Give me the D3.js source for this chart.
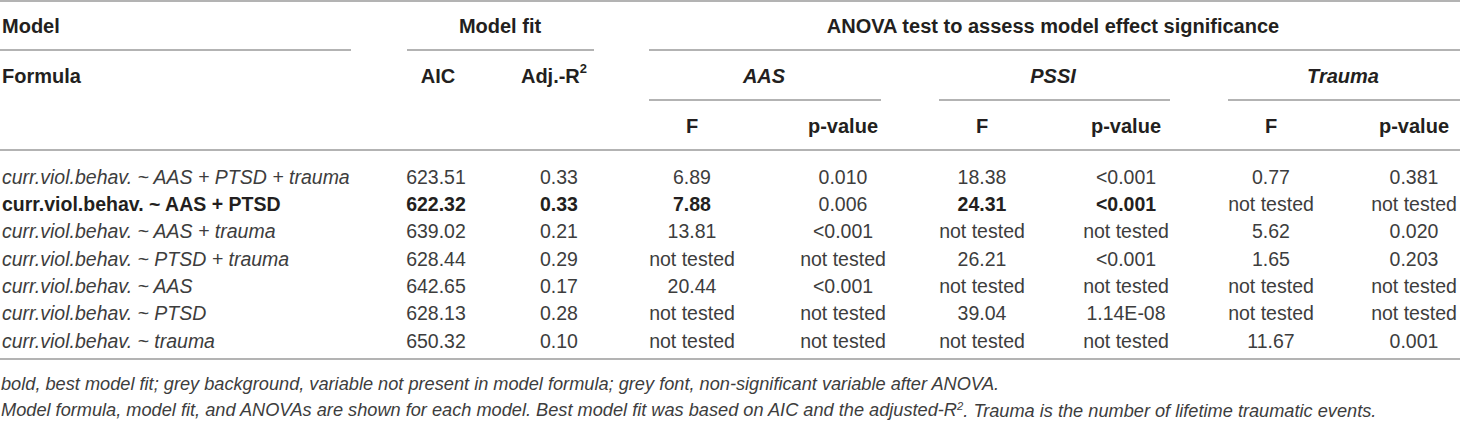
<!DOCTYPE html>
<html>
<head>
<meta charset="utf-8">
<script src="https://cdn.jsdelivr.net/npm/d3@7"></script>
<style>
  html, body { margin: 0; padding: 0; background: #fff; }
  svg text { font-family: "Liberation Sans", Arial, sans-serif; }
</style>
</head>
<body>
<svg id="table"></svg>
<script>
// table content
const formulas = [
  'curr.viol.behav. ~ AAS + PTSD + trauma',
  'curr.viol.behav. ~ AAS + PTSD',
  'curr.viol.behav. ~ AAS + trauma',
  'curr.viol.behav. ~ PTSD + trauma',
  'curr.viol.behav. ~ AAS',
  'curr.viol.behav. ~ PTSD',
  'curr.viol.behav. ~ trauma',
];
const aic = ['623.51', '622.32', '639.02', '628.44', '642.65', '628.13', '650.32'];
const adjR2 = ['0.33', '0.33', '0.21', '0.29', '0.17', '0.28', '0.10'];
const aasF = ['6.89', '7.88', '13.81', 'not tested', '20.44', 'not tested', 'not tested'];
const aasP = ['0.010', '0.006', '<0.001', 'not tested', '<0.001', 'not tested', 'not tested'];
const pssiF = ['18.38', '24.31', 'not tested', '26.21', 'not tested', '39.04', 'not tested'];
const pssiP = ['<0.001', '<0.001', 'not tested', '<0.001', 'not tested', '1.14E-08', 'not tested'];
const traumaF = ['0.77', 'not tested', '5.62', '1.65', 'not tested', 'not tested', '11.67'];
const traumaP = ['0.381', 'not tested', '0.020', '0.203', 'not tested', 'not tested', '0.001'];

// best model row and which of its cells are bold
const bestRow = 1;
const boldCols = ['formula', 'aic', 'adj', 'aasF', 'pssiF', 'pssiP'];

const groupLabels = ['AAS', 'PSSI', 'Trauma'];
const footnotes = [
  'bold, best model fit; grey background, variable not present in model formula; grey font, non-significant variable after ANOVA.',
  'Model formula, model fit, and ANOVAs are shown for each model. Best model fit was based on AIC and the adjusted-R',
  '. Trauma is the number of lifetime traumatic events.',
];

const width = 1460;
const height = 421;
const headSize = 20;
const bodySize = 19.5;
const footSize = 18.2;
const textColor = '#231f20';
const dataColor = '#3d3d3d';
const ruleColor = '#9a9a9a';

const colKeys = ['aic', 'adj', 'aasF', 'aasP', 'pssiF', 'pssiP', 'traumaF', 'traumaP'];
const colData = {
  aic, adj: adjR2, aasF, aasP, pssiF, pssiP, traumaF, traumaP,
};

const x = d3.scaleOrdinal()
  .domain(colKeys)
  .range([436, 559, 692, 843, 982, 1126, 1271, 1414]);

const xGroup = d3.scaleOrdinal()
  .domain(groupLabels)
  .range([764, 1053, 1343]);

const y = d3.scalePoint()
  .domain(d3.range(formulas.length))
  .range([177, 341]);

const svg = d3.select('#table')
  .attr('width', width)
  .attr('height', height);

// horizontal rules
const rules = [
  { y: 1, x1: 0, x2: width },
  { y: 50, x1: 0, x2: 351 },
  { y: 50, x1: 407, x2: 594 },
  { y: 50, x1: 649, x2: width },
  { y: 100, x1: 649, x2: 881 },
  { y: 100, x1: 939, x2: 1170 },
  { y: 100, x1: 1228, x2: width },
  { y: 150, x1: 0, x2: width },
  { y: 359, x1: 0, x2: width },
];
svg.selectAll('line.rule')
  .data(rules)
  .enter().append('line')
  .attr('class', 'rule')
  .attr('x1', (d) => d.x1)
  .attr('x2', (d) => d.x2)
  .attr('y1', (d) => d.y)
  .attr('y2', (d) => d.y)
  .attr('stroke', ruleColor)
  .attr('stroke-width', 1.6);

// header
const head = svg.append('g')
  .attr('font-weight', 'bold')
  .attr('font-size', headSize)
  .attr('fill', textColor);

const headTop = [
  { t: 'Model', x: 2, y: 26, anchor: 'start' },
  { t: 'Model fit', x: 500, y: 26, anchor: 'middle' },
  { t: 'ANOVA test to assess model effect significance', x: 1053, y: 26, anchor: 'middle' },
  { t: 'Formula', x: 2, y: 76, anchor: 'start' },
  { t: 'AIC', x: x('aic') + 2, y: 76, anchor: 'middle' },
];
head.selectAll('text.h')
  .data(headTop)
  .enter().append('text')
  .attr('class', 'h')
  .attr('x', (d) => d.x)
  .attr('y', (d) => d.y)
  .attr('dy', '0.35em')
  .attr('text-anchor', (d) => d.anchor)
  .text((d) => d.t);

const adjHead = head.append('text')
  .attr('x', x('adj') - 5)
  .attr('y', 76)
  .attr('dy', '0.35em')
  .attr('text-anchor', 'middle');
adjHead.append('tspan').text('Adj.-R');
adjHead.append('tspan')
  .attr('font-size', headSize * 0.65)
  .attr('dy', '-0.75em')
  .text('2');

head.selectAll('text.group')
  .data(groupLabels)
  .enter().append('text')
  .attr('class', 'group')
  .attr('x', (d) => xGroup(d))
  .attr('y', 76)
  .attr('dy', '0.35em')
  .attr('text-anchor', 'middle')
  .attr('font-style', 'italic')
  .text((d) => d);

head.selectAll('text.sub')
  .data(colKeys.slice(2))
  .enter().append('text')
  .attr('class', 'sub')
  .attr('x', (d) => x(d))
  .attr('y', 126)
  .attr('dy', '0.35em')
  .attr('text-anchor', 'middle')
  .text((d) => (d.endsWith('F') ? 'F' : 'p-value'));

// body rows
const rows = svg.selectAll('g.row')
  .data(formulas)
  .enter().append('g')
  .attr('class', 'row')
  .attr('font-size', bodySize)
  .attr('transform', (d, i) => `translate(0,${y(i)})`);

rows.append('text')
  .attr('x', 2)
  .attr('dy', '0.35em')
  .attr('fill', (d, i) => (i === bestRow ? textColor : dataColor))
  .attr('font-weight', (d, i) => (i === bestRow ? 'bold' : 'normal'))
  .attr('font-style', (d, i) => (i === bestRow ? 'normal' : 'italic'))
  .text((d) => d);

rows.each(function (d, i) {
  d3.select(this).selectAll('text.cell')
    .data(colKeys)
    .enter().append('text')
    .attr('class', 'cell')
    .attr('x', (k) => x(k))
    .attr('dy', '0.35em')
    .attr('text-anchor', 'middle')
    .attr('font-weight', (k) => (i === bestRow && boldCols.includes(k) ? 'bold' : 'normal'))
    .attr('fill', (k) => (i === bestRow && boldCols.includes(k) ? textColor : dataColor))
    .text((k) => colData[k][i]);
});

// footnotes
const foot = svg.append('g')
  .attr('font-size', footSize)
  .attr('font-style', 'italic')
  .attr('fill', dataColor);

foot.append('text')
  .attr('x', 1)
  .attr('y', 384)
  .attr('dy', '0.35em')
  .text(footnotes[0]);

const foot2 = foot.append('text')
  .attr('x', 1)
  .attr('y', 410)
  .attr('dy', '0.35em');
foot2.append('tspan').text(footnotes[1]);
foot2.append('tspan')
  .attr('font-size', footSize * 0.62)
  .attr('dy', '-0.6em')
  .text('2');
foot2.append('tspan')
  .attr('dy', '0.38em')
  .text(footnotes[2]);
</script>
</body>
</html>
